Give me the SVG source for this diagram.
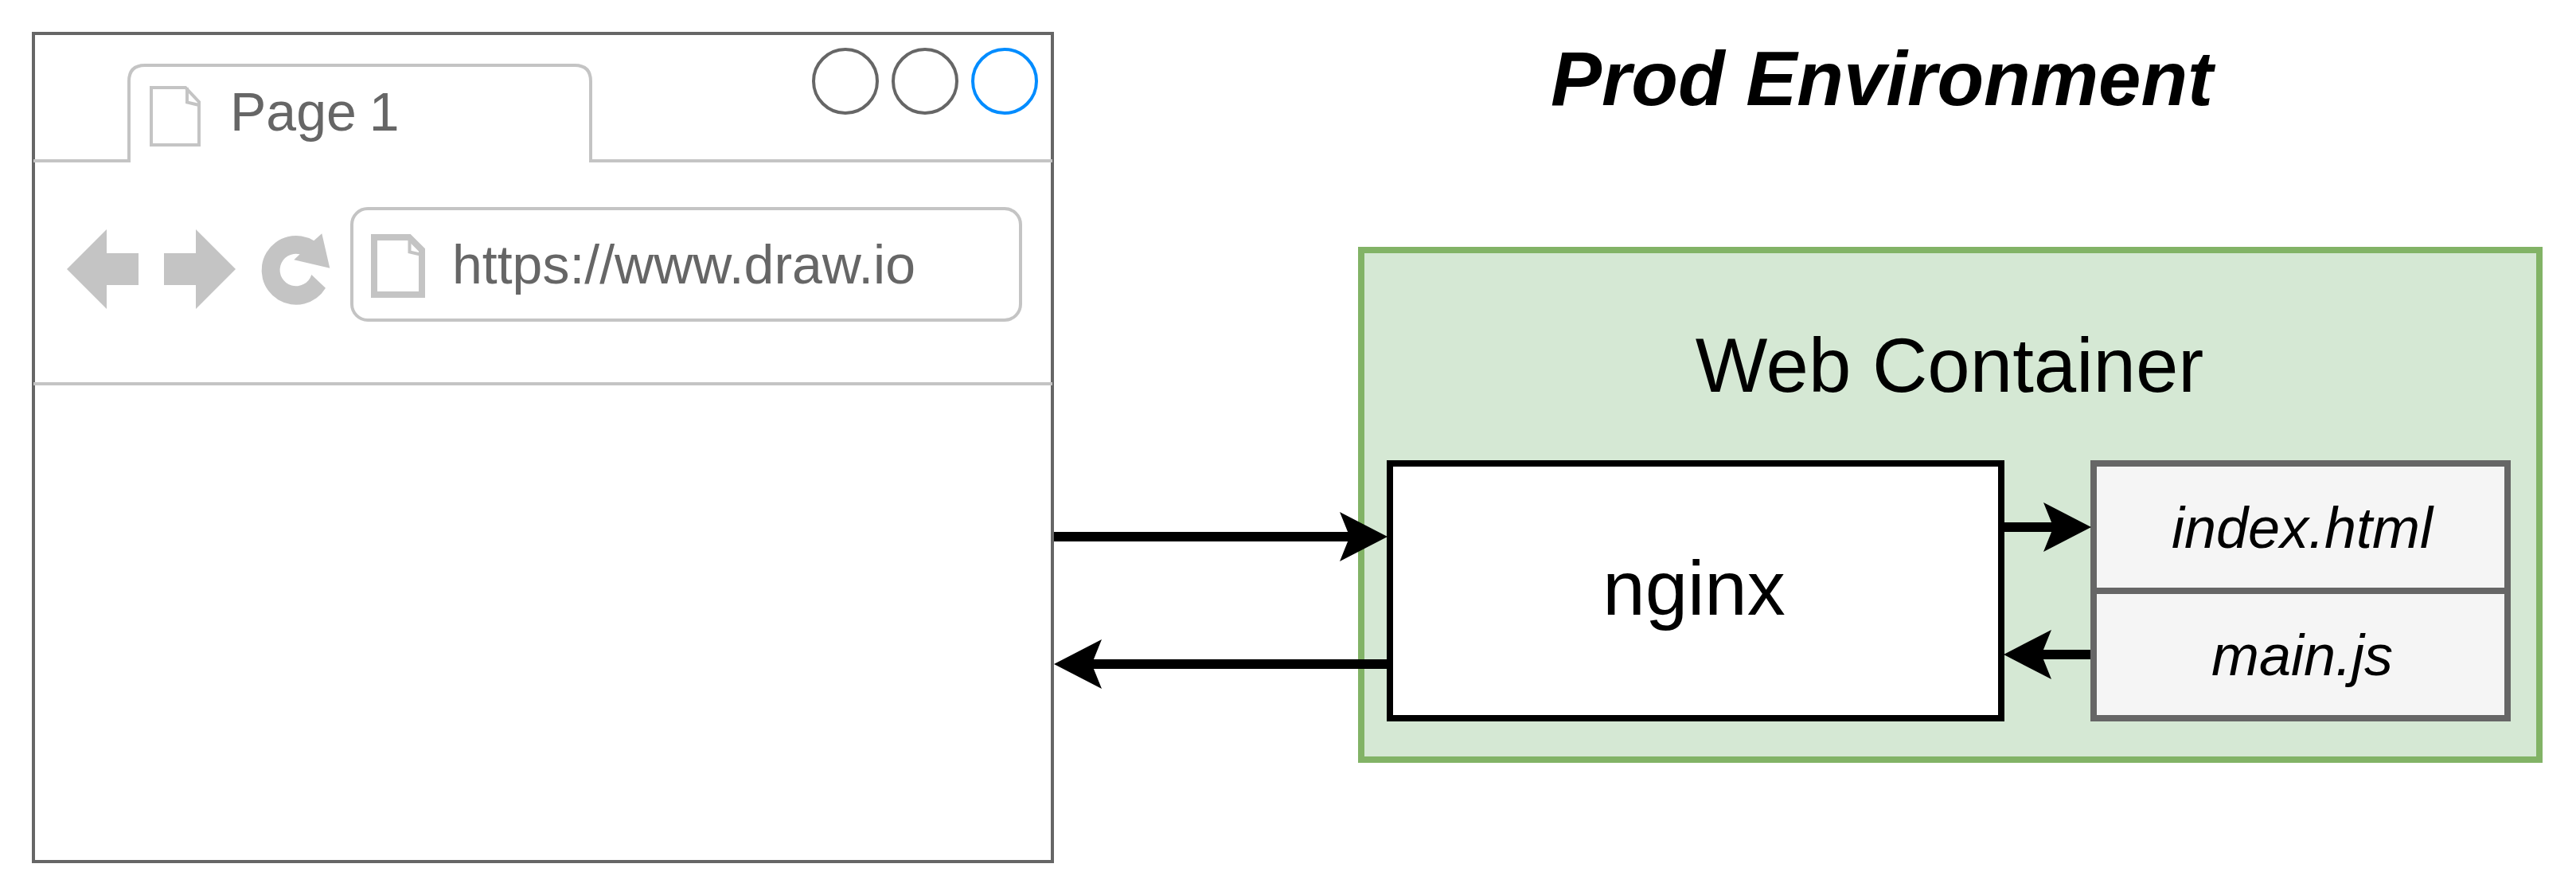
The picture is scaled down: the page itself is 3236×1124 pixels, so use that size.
<svg xmlns="http://www.w3.org/2000/svg" width="3236" height="1124" viewBox="0 0 3236 1124">
<style>
text{font-family:"Liberation Sans",Arial,Helvetica,sans-serif}
.ui{font-size:68px;fill:#666666}
.big{font-size:96px;fill:#000;text-anchor:middle}
.file{font-size:72px;font-style:italic;fill:#000;text-anchor:middle}
.dark{fill:none;stroke:#666666;stroke-width:4}
.light{fill:none;stroke:#c4c4c4;stroke-width:4}
.icon{fill:#c4c4c4;stroke:none}
.conn{fill:none;stroke:#000;stroke-width:12;marker-end:url(#head)}
</style>
<defs>
<marker id="head" markerUnits="userSpaceOnUse" viewBox="0 0 60 62" refX="17" refY="31" markerWidth="60" markerHeight="62" orient="auto">
<path d="M0,0 L60,31 L0,62 L12.5,31 Z" fill="#000"/>
</marker>
</defs>
<rect width="3236" height="1124" fill="#fff"/>
<g id="browser">
<rect x="42" y="42" width="1280" height="1040" fill="#fff" stroke="#666666" stroke-width="4"/>
<path class="light" d="M42,202 H162 V102 Q162,82 182,82 H722 Q742,82 742,102 V202 H1322"/>
<path class="light" d="M42,482 H1322"/>
<path class="light" d="M190,182 V110 H233 L250,128 V182 Z"/>
<path class="light" d="M235,110 V128.5 L250,132"/>
<text class="ui" x="289" y="164" word-spacing="-3">Page 1</text>
<circle class="dark" cx="1062" cy="102" r="40"/>
<circle class="dark" cx="1162" cy="102" r="40"/>
<circle cx="1262" cy="102" r="40" fill="none" stroke="#008cff" stroke-width="4"/>
<path class="icon" d="M84,338 L134,288 V318 H174 V358 H134 V388 Z"/>
<path class="icon" d="M206,318 H246 V288 L296,338 L246,388 V358 H206 Z"/>
<path class="icon" d="M409,361.7 A43.3,43.3 0 1 1 394.3,302.3 L404.3,293.3 L414.3,336.7 L369.3,326.3 L376.7,319.3 A20.3,20.3 0 1 0 391.3,345 Z"/>
<rect class="light" x="442" y="262" width="840" height="140" rx="20" ry="20"/>
<path d="M470,370 V298 H514 L530,314 V370 Z" fill="none" stroke="#c4c4c4" stroke-width="8"/>
<path class="light" d="M514.5,296 V316.5 L530,320"/>
<text class="ui" x="568" y="356">https://www.draw.io</text>
</g>
<g id="title"><text x="2364" y="132" font-size="96" font-weight="bold" font-style="italic" text-anchor="middle" fill="#000">Prod Environment</text></g>
<g id="web-container">
<rect x="1710" y="314" width="1480" height="640" fill="#d5e8d4" stroke="#82b366" stroke-width="8"/>
<text class="big" x="2449" y="492">Web Container</text>
</g>
<g id="nginx">
<rect x="1746" y="582" width="768" height="320" fill="#fff" stroke="#000" stroke-width="8"/>
<text class="big" x="2128" y="772">nginx</text>
</g>
<g id="index-html">
<rect x="2630" y="582" width="520" height="160" fill="#f5f5f5" stroke="#666666" stroke-width="8"/>
<text class="file" x="2892" y="688">index.html</text>
</g>
<g id="main-js">
<rect x="2630" y="742" width="520" height="160" fill="#f5f5f5" stroke="#666666" stroke-width="8"/>
<text class="file" x="2892" y="848">main.js</text>
</g>
<g id="connectors">
<path class="conn" d="M1324,674 H1700"/>
<path class="conn" d="M1746,834 H1367"/>
<path class="conn" d="M2518,662 H2584"/>
<path class="conn" d="M2626,822 H2560"/>
</g>
</svg>
